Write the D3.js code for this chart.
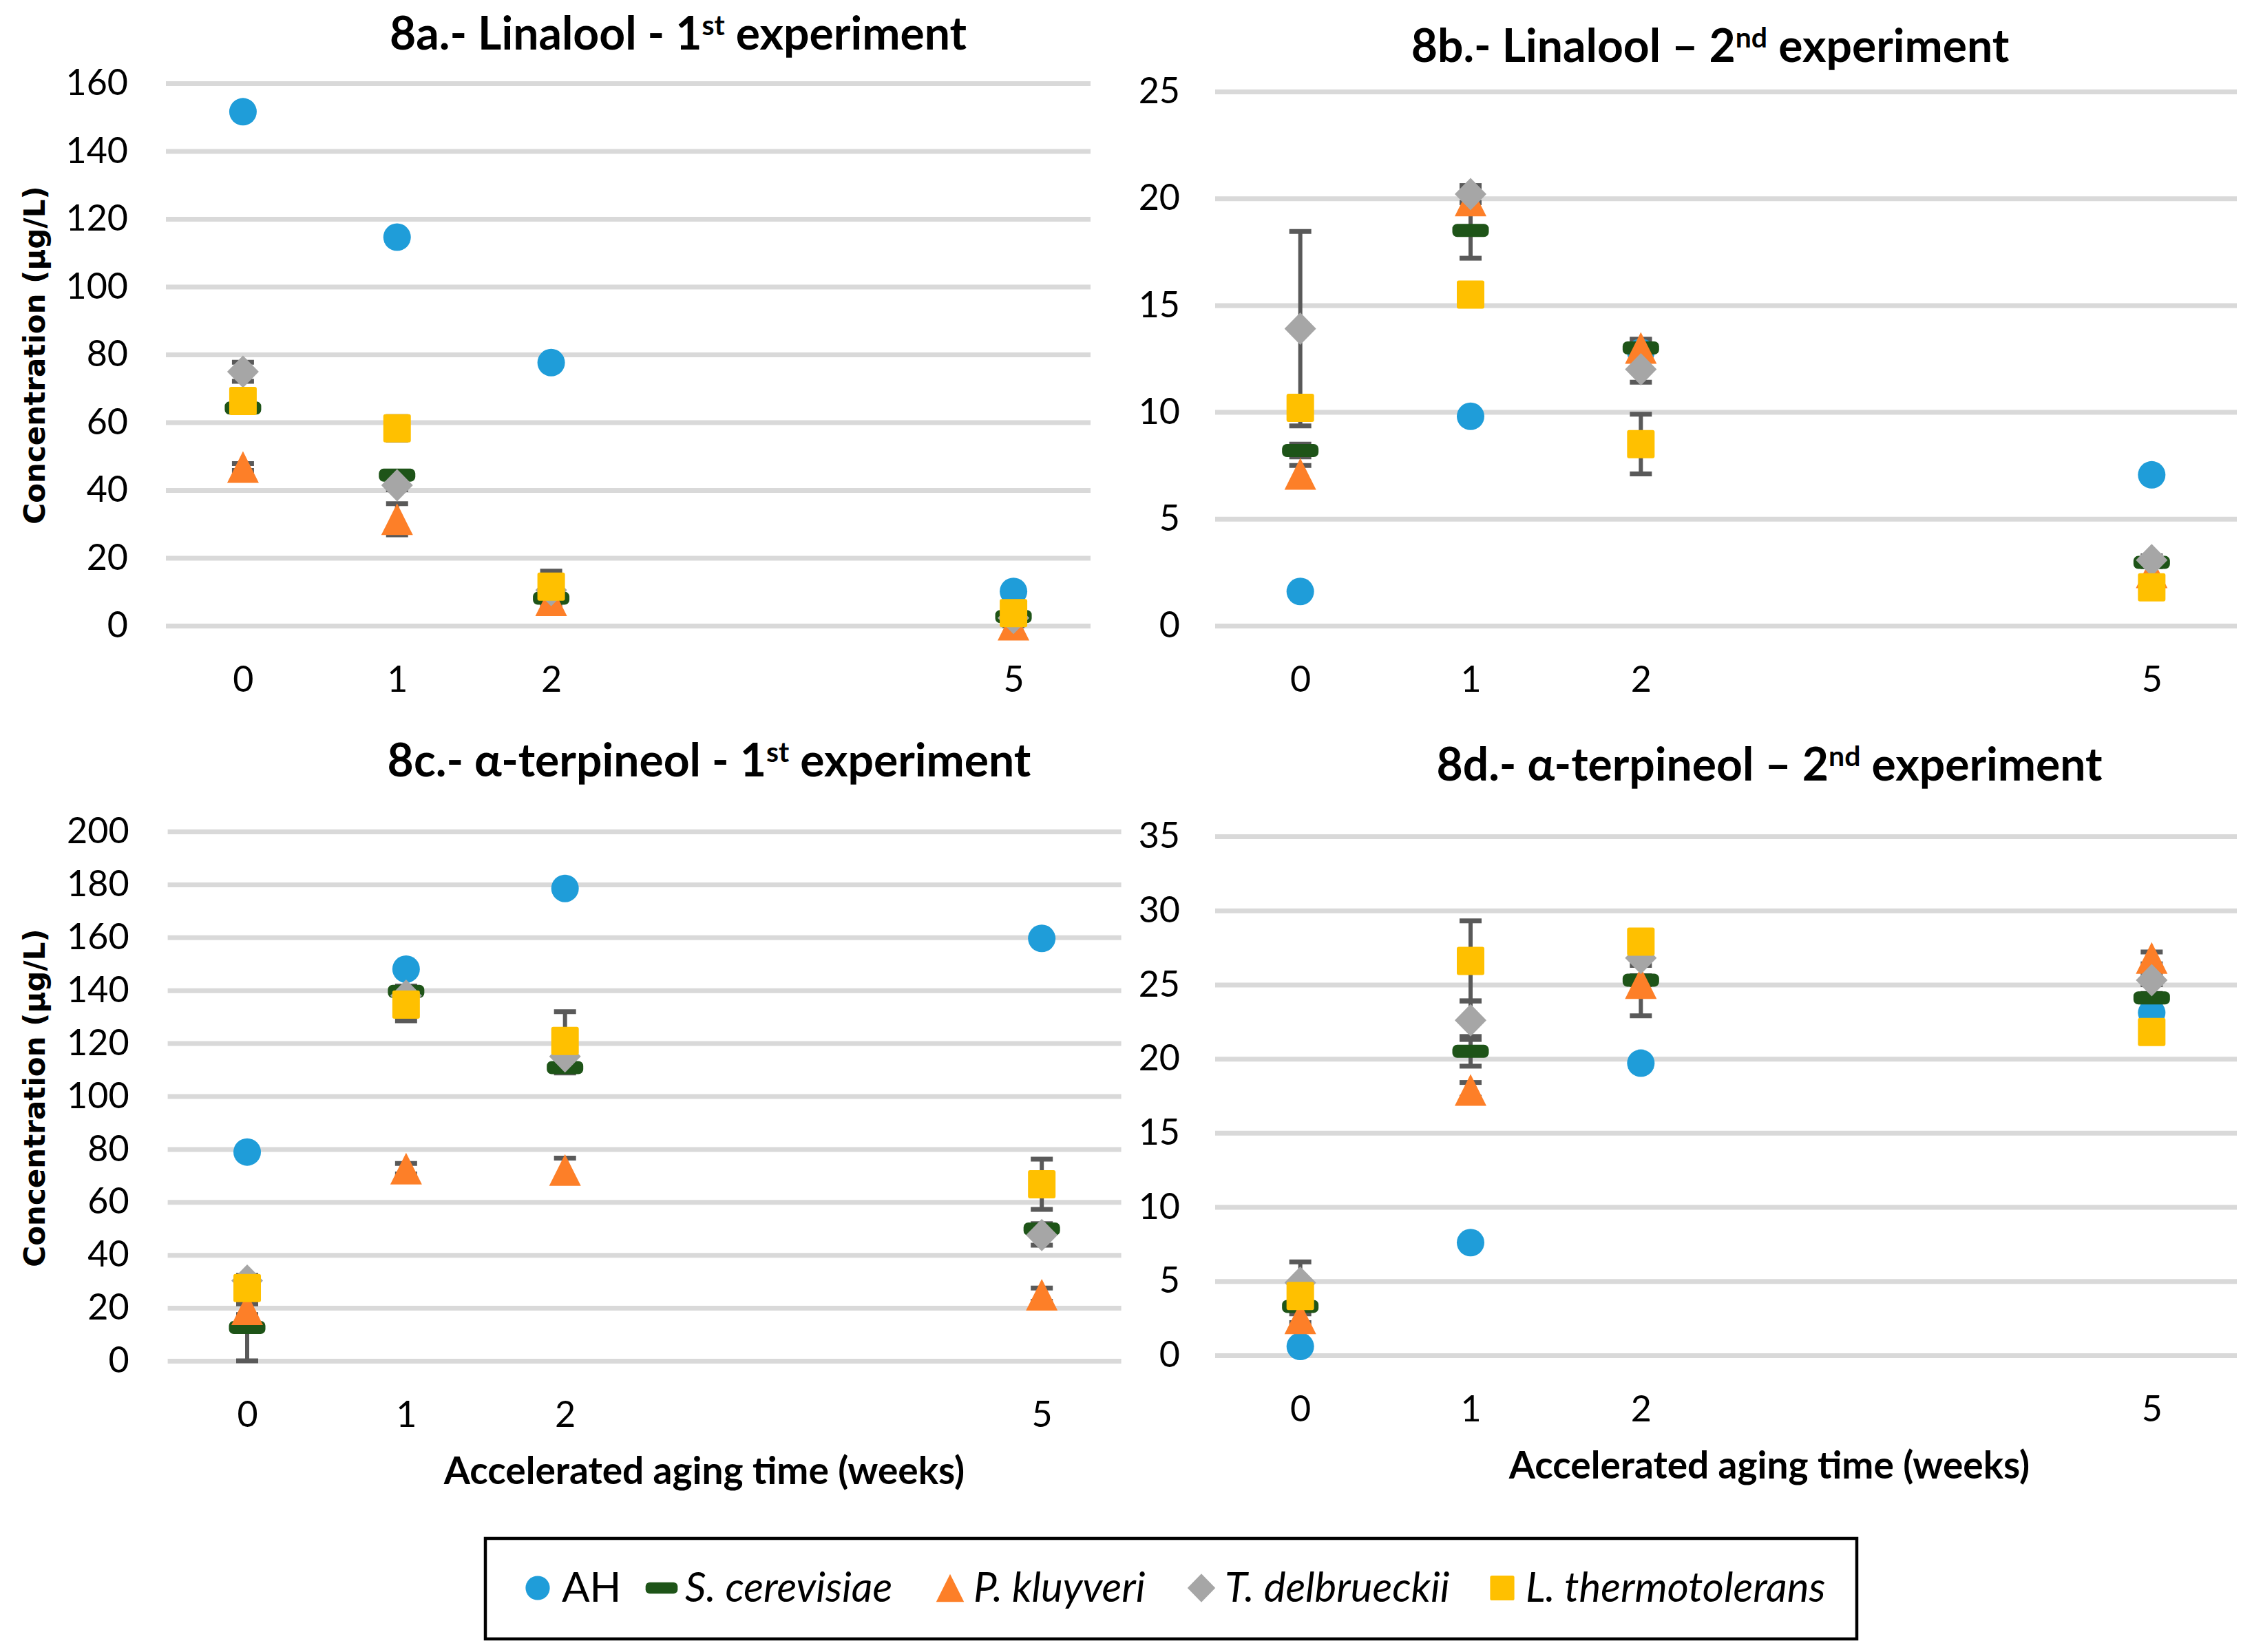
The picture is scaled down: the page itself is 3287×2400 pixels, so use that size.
<!DOCTYPE html>
<html>
<head>
<meta charset="utf-8">
<script src="https://cdn.jsdelivr.net/npm/d3@7"></script>
<style>
    body { margin: 0; background: #fff; }
    svg { display: block; }
</style>
</head>
<body>
<div class="chart"></div>
<script>
'use strict';

const width = 3287;
const height = 2400;

// x values (weeks of accelerated aging)
const weeks = [0, 1, 2, 5];
const seriesNames = ['AH', 'S. cerevisiae', 'P. kluyveri', 'T. delbrueckii', 'L. thermotolerans'];

// 8a - linalool, 1st experiment (mean, error) in series order
const lin1Mean = [
    [151.6, 114.6, 77.6, 10.1],
    [64.2, 44.4, 8.1, 2.7],
    [46.8, 31.4, 7.5, 0.3],
    [74.9, 41.4, 10.5, 2.3],
    [66.3, 58.2, 11.5, 3.7]
];
const lin1Err = [
    [0, 0, 0, 0],
    [1, 1, 2, 0.5],
    [1, 4.6, 2.5, 0.5],
    [2.8, 1.3, 2, 0.5],
    [2, 3.5, 4.6, 1]
];

// 8b - linalool, 2nd experiment
const lin2Mean = [
    [1.6, 9.8, 12.8, 7.06],
    [8.2, 18.5, 13.0, 2.96],
    [7.1, 19.9, 13.0, 2.5],
    [13.9, 20.2, 12.0, 3.07],
    [10.2, 15.5, 8.5, 1.8]
];
const lin2Err = [
    [0, 0, 0, 0],
    [0.3, 1.3, 0.4, 0.2],
    [0.4, 0.5, 0.4, 0.3],
    [4.55, 0.4, 0.6, 0.2],
    [0.5, 0.3, 1.4, 0.2]
];

// 8c - alpha-terpineol, 1st experiment
const terp1Mean = [
    [78.9, 148, 178.5, 159.6],
    [12.6, 139.6, 110.8, 49.8],
    [19.5, 72.6, 72.1, 25.0],
    [30.3, 138, 115, 47.5],
    [27.5, 134.6, 120.9, 66.7]
];
const terp1Err = [
    [0, 0, 0, 0],
    [12.6, 2, 2, 2],
    [2, 2, 4.5, 2.5],
    [2, 3, 3, 3.8],
    [2, 6.1, 11, 9.5]
];

// 8d - alpha-terpineol, 2nd experiment
const terp2Mean = [
    [0.6, 7.6, 19.7, 23.1],
    [3.3, 20.5, 25.3, 24.1],
    [2.5, 17.9, 25.1, 26.8],
    [4.9, 22.6, 26.8, 25.3],
    [4.0, 26.6, 27.9, 21.8]
];
const terp2Err = [
    [0, 0, 0, 0],
    [0.3, 1.0, 0.3, 0.3],
    [0.3, 0.5, 2.2, 0.4],
    [1.4, 1.3, 0.5, 0.3],
    [0.3, 2.7, 0.4, 0.3]
];

const yTicksLin1 = [0, 20, 40, 60, 80, 100, 120, 140, 160];
const yTicksLin2 = [0, 5, 10, 15, 20, 25];
const yTicksTerp1 = [0, 20, 40, 60, 80, 100, 120, 140, 160, 180, 200];
const yTicksTerp2 = [0, 5, 10, 15, 20, 25, 30, 35];

const titleStart = ['8a.- Linalool - 1', '8b.- Linalool \u2013 2', '8c.- \u03b1-terpineol - 1', '8d.- \u03b1-terpineol \u2013 2'];
const titleSup = ['st', 'nd', 'st', 'nd'];
const titleEnd = [' experiment', ' experiment', ' experiment', ' experiment'];

const yTitle = 'Concentration (\u00b5g/L)';
const xTitle = 'Accelerated aging time (weeks)';

const colors = ['#1f9dd9', '#1e5418', '#fd7f28', '#a6a6a6', '#ffc000'];
const shapes = ['circle', 'dash', 'triangle', 'diamond', 'square'];

const textFont = 'Lato, "Open Sans", sans-serif';

// panel layout (pixels)
const panels = [
    {mean: lin1Mean, err: lin1Err, ticks: yTicksLin1, xr: [241, 1584], yr: [909, 121],
        labelPad: 55, title: [985, 72], yTitle: [50, 516], xTitle: null},
    {mean: lin2Mean, err: lin2Err, ticks: yTicksLin2, xr: [1765, 3249], yr: [909, 133],
        labelPad: 51, title: [2484, 90], yTitle: null, xTitle: null},
    {mean: terp1Mean, err: terp1Err, ticks: yTicksTerp1, xr: [243.6, 1628.6], yr: [1977, 1208],
        labelPad: 56, title: [1030, 1128], yTitle: [50, 1595], xTitle: [1023, 2156]},
    {mean: terp2Mean, err: terp2Err, ticks: yTicksTerp2, xr: [1765, 3249], yr: [1969, 1215],
        labelPad: 51, title: [2570, 1134], yTitle: null, xTitle: [2570, 2148]}
];

function roundedRect(w, h, r) {
    const p = d3.path();
    const x0 = -w / 2, y0 = -h / 2;
    p.moveTo(x0 + r, y0);
    p.lineTo(x0 + w - r, y0);
    p.arcTo(x0 + w, y0, x0 + w, y0 + r, r);
    p.lineTo(x0 + w, y0 + h - r);
    p.arcTo(x0 + w, y0 + h, x0 + w - r, y0 + h, r);
    p.lineTo(x0 + r, y0 + h);
    p.arcTo(x0, y0 + h, x0, y0 + h - r, r);
    p.lineTo(x0, y0 + r);
    p.arcTo(x0, y0, x0 + r, y0, r);
    p.closePath();
    return p.toString();
}

function markerPath(shape, k) {
    if (shape === 'circle') {
        const p = d3.path();
        p.arc(0, 0, 20 * k, 0, 2 * Math.PI);
        return p.toString();
    }
    if (shape === 'dash') {
        return roundedRect(53 * k, 19 * k, 7 * k);
    }
    if (shape === 'square') {
        return roundedRect(40 * k, 41 * k, 3 * k);
    }
    if (shape === 'triangle') {
        return `M0,${-23 * k}L${23 * k},${23 * k}L${-23 * k},${23 * k}Z`;
    }
    // diamond
    return `M0,${-23.5 * k}L${23 * k},0L0,${23.5 * k}L${-23 * k},0Z`;
}

function drawPanel(svg, cfg, idx) {
    const xScale = d3.scaleLinear().domain([-0.5, 5.5]).range(cfg.xr);
    const yScale = d3.scaleLinear().domain([0, d3.max(cfg.ticks)]).range(cfg.yr);
    const g = svg.append('g').attr('class', `panel panel-${idx}`);

    // gridlines + y labels
    const yAxis = g.append('g')
        .attr('class', 'axis axis--y')
        .attr('transform', `translate(${cfg.xr[0]},0)`)
        .call(d3.axisLeft(yScale)
            .tickValues(cfg.ticks)
            .tickSize(-(cfg.xr[1] - cfg.xr[0]))
            .tickPadding(cfg.labelPad)
            .tickFormat(d3.format('d')));
    yAxis.select('.domain').remove();
    yAxis.selectAll('line')
        .attr('stroke', '#d9d9d9')
        .attr('stroke-width', 7);
    yAxis.selectAll('text')
        .attr('fill', '#000')
        .style('font-family', textFont)
        .style('font-size', '52px');

    // x labels
    const xAxis = g.append('g')
        .attr('class', 'axis axis--x')
        .attr('transform', `translate(0,${cfg.yr[0]})`)
        .call(d3.axisBottom(xScale)
            .tickValues(weeks)
            .tickSize(0)
            .tickPadding(59)
            .tickFormat(d3.format('d')));
    xAxis.select('.domain').remove();
    xAxis.selectAll('text')
        .attr('fill', '#000')
        .style('font-family', textFont)
        .style('font-size', '52px');

    // error bars (drawn under all markers)
    const bars = [];
    cfg.mean.forEach((vals, s) => {
        vals.forEach((v, i) => {
            const e = cfg.err[s][i];
            if (e > 0) {
                bars.push({x: weeks[i], lo: Math.max(0, v - e), hi: v + e});
            }
        });
    });
    const eb = g.append('g').attr('class', 'error-bars')
        .attr('stroke', '#595959');
    eb.selectAll('.stem')
        .data(bars)
        .enter().append('line')
        .attr('class', 'stem')
        .attr('x1', d => xScale(d.x))
        .attr('x2', d => xScale(d.x))
        .attr('y1', d => yScale(d.lo))
        .attr('y2', d => yScale(d.hi))
        .attr('stroke-width', 6);
    const caps = bars.flatMap(d => [{x: d.x, v: d.lo}, {x: d.x, v: d.hi}]);
    eb.selectAll('.cap')
        .data(caps)
        .enter().append('line')
        .attr('class', 'cap')
        .attr('x1', d => xScale(d.x) - 16)
        .attr('x2', d => xScale(d.x) + 16)
        .attr('y1', d => yScale(d.v))
        .attr('y2', d => yScale(d.v))
        .attr('stroke-width', 7);

    // markers
    cfg.mean.forEach((vals, s) => {
        g.append('g')
            .attr('class', `series series-${s}`)
            .selectAll('path')
            .data(vals.map((v, i) => ({x: weeks[i], v})))
            .enter().append('path')
            .attr('d', markerPath(shapes[s], 1))
            .attr('fill', colors[s])
            .attr('transform', d => `translate(${xScale(d.x)},${yScale(d.v)})`);
    });

    // title
    const title = g.append('text')
        .attr('class', 'title')
        .attr('x', cfg.title[0])
        .attr('y', cfg.title[1])
        .attr('text-anchor', 'middle')
        .style('font-family', textFont)
        .style('font-weight', 'bold')
        .style('font-size', '66px');
    title.append('tspan').text(titleStart[idx]);
    title.append('tspan')
        .attr('dy', -21)
        .style('font-size', '41px')
        .text(titleSup[idx]);
    title.append('tspan')
        .attr('dy', 21)
        .text(titleEnd[idx]);

    if (cfg.yTitle) {
        g.append('text')
            .attr('transform', `translate(${cfg.yTitle[0]},${cfg.yTitle[1]}) rotate(-90)`)
            .attr('text-anchor', 'middle')
            .attr('dy', '0.36em')
            .style('font-family', '"DejaVu Sans", Verdana, sans-serif')
            .style('font-weight', 'bold')
            .style('font-size', '42px')
            .text(yTitle);
    }
    if (cfg.xTitle) {
        g.append('text')
            .attr('x', cfg.xTitle[0])
            .attr('y', cfg.xTitle[1])
            .attr('text-anchor', 'middle')
            .style('font-family', textFont)
            .style('font-weight', 'bold')
            .style('font-size', '55px')
            .text(xTitle);
    }
}

function drawLegend(svg) {
    const lg = svg.append('g').attr('class', 'legend');
    lg.append('rect')
        .attr('x', 705)
        .attr('y', 2235)
        .attr('width', 1992)
        .attr('height', 146)
        .attr('fill', 'none')
        .attr('stroke', '#000')
        .attr('stroke-width', 4.5);

    const markerX = [781, 961, 1380, 1745, 2182];
    const items = lg.selectAll('.item')
        .data(seriesNames)
        .enter().append('g')
        .attr('class', 'item')
        .attr('transform', (d, i) => `translate(${markerX[i]},2307)`);
    items.append('path')
        .attr('d', (d, i) => markerPath(shapes[i], 0.88))
        .attr('fill', (d, i) => colors[i]);
    items.append('text')
        .attr('x', (d, i) => i === 0 ? 35 : 34)
        .attr('y', 20)
        .style('font-family', textFont)
        .style('font-style', (d, i) => i === 0 ? 'normal' : 'italic')
        .style('font-size', '60px')
        .text(d => d);
}

function run() {
    const svg = d3.select('.chart').append('svg')
        .attr('width', width)
        .attr('height', height)
        .attr('viewBox', `0 0 ${width} ${height}`);
    svg.append('rect')
        .attr('width', width)
        .attr('height', height)
        .attr('fill', '#fff');

    panels.forEach((cfg, i) => drawPanel(svg, cfg, i));
    drawLegend(svg);
}

run();
</script>
</body>
</html>
